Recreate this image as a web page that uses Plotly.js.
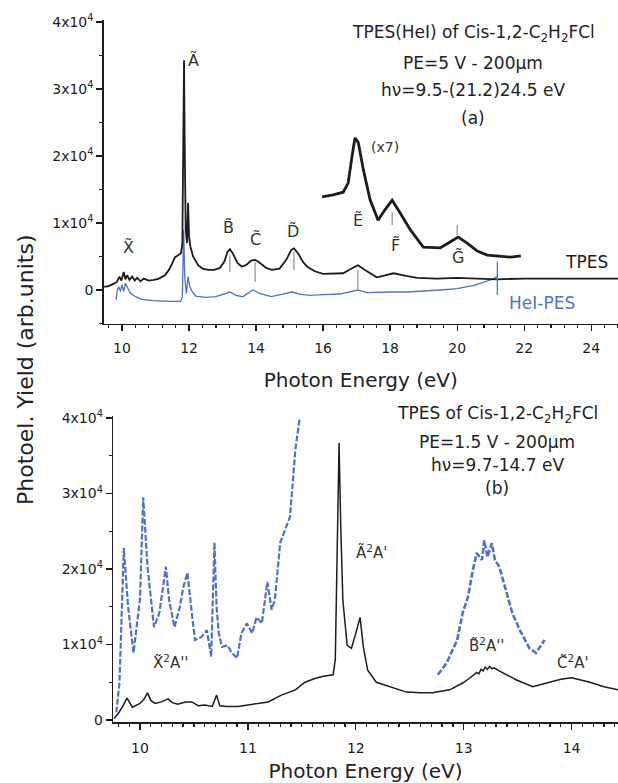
<!DOCTYPE html>
<html>
<head>
<meta charset="utf-8">
<script src="https://cdn.plot.ly/plotly-3.0.1.min.js"></script>
<style>html,body{margin:0;padding:0;background:#fff;}#chart{width:618px;height:783px;}</style>
</head>
<body>
<div id="chart"></div>
<script>
// ---------- Panel (a): TPES (HeI) ----------
const tpesA_E = [9.45, 9.55, 9.7, 9.85, 9.92, 9.98, 10.05, 10.1, 10.15, 10.22, 10.3, 10.38, 10.45, 10.55, 10.65, 10.8, 10.95, 11.1, 11.28, 11.4, 11.5, 11.58, 11.68, 11.76, 11.8, 11.83, 11.85, 11.87, 11.9, 11.94, 11.97, 12.0, 12.04, 12.12, 12.27, 12.4, 12.57, 12.75, 12.92, 13.05, 13.15, 13.22, 13.3, 13.45, 13.57, 13.7, 13.85, 13.97, 14.1, 14.3, 14.47, 14.7, 14.9, 15.05, 15.13, 15.25, 15.4, 15.52, 15.75, 16.0, 16.3, 16.6, 16.85, 17.04, 17.25, 17.6, 17.85, 18.1, 18.4, 18.8, 19.4, 20.0, 20.6, 21.2, 22, 23, 24, 24.8];
const tpesA_Y = [500, 500, 800, 1200, 2000, 1400, 2700, 1600, 2200, 1500, 2000, 1400, 1800, 1300, 1700, 1400, 1500, 1700, 2200, 3000, 4000, 4900, 5200, 5500, 7000, 20000, 34300, 22000, 9000, 7000, 13000, 8000, 6500, 5000, 3700, 3200, 3000, 3000, 3300, 4200, 5700, 6100, 5500, 4000, 3500, 3700, 4400, 4500, 4100, 3300, 3000, 3200, 4500, 6000, 6200, 5500, 4200, 3500, 2800, 2400, 2400, 2500, 3200, 3700, 3000, 1900, 2200, 2500, 2200, 1800, 1700, 1800, 1700, 1600, 1700, 1700, 1700, 1700];

const tpesX7_E = [15.97, 16.3, 16.6, 16.75, 16.85, 16.95, 17.05, 17.2, 17.4, 17.64, 17.85, 18.06, 18.3, 18.6, 18.99, 19.5, 19.8, 20.03, 20.3, 20.6, 20.9, 21.3, 21.6, 21.9];
const tpesX7_Y = [13900, 14200, 14600, 16000, 19500, 22700, 22000, 18000, 13500, 10400, 12000, 13400, 11500, 9000, 6400, 6300, 7200, 7900, 7000, 5800, 5200, 5000, 4900, 5100];

const hePES_E = [9.82, 9.86, 9.9, 9.95, 10.0, 10.05, 10.1, 10.15, 10.25, 10.4, 10.6, 10.9, 11.2, 11.5, 11.75, 11.8, 11.84, 11.87, 11.92, 11.97, 12.02, 12.1, 12.2, 12.5, 12.8, 13.0, 13.22, 13.4, 13.6, 13.75, 13.9, 14.1, 14.45, 14.8, 15.07, 15.3, 15.6, 16.0, 16.5, 17.04, 17.3, 18.0, 18.5, 19.5, 20.0, 20.5, 21.0, 21.2];
const hePES_Y = [-1500, 0, 500, -200, 800, -200, 1000, 500, -500, -1000, -1400, -1600, -1700, -1700, -1700, -1000, 9000, 2000, -500, 2000, 500, -300, -900, -1100, -1000, -700, -300, -800, -1000, -500, 0, -500, -1000, -600, -300, -600, -800, -700, -600, 0, -400, -300, -300, 0, 200, 700, 1500, 2000];

const panelA_ticks = [10, 12, 14, 16, 18, 20, 22, 24];
const yTickVals = [0, 10000, 20000, 30000, 40000];
const yTickText = ['0', '1x10<sup>4</sup>', '2x10<sup>4</sup>', '3x10<sup>4</sup>', '4x10<sup>4</sup>'];

// state labels of panel (a): [text, E, value]
const labelsA = [['X\u0303', 10.18, 6300], ['A\u0303', 12.12, 34300], ['B\u0303', 13.19, 9300], ['C\u0303', 13.97, 7500], ['D\u0303', 15.1, 8700], ['E\u0303', 17.04, 10400], ['F\u0303', 18.15, 6700], ['G\u0303', 20.03, 4800]];
// band markers of panel (a): [E, from, to]
const markersA = [[13.22, 2700, 5200], [13.97, 1200, 4200], [15.13, 3000, 5700], [17.04, 0, 3000], [18.06, 9700, 11600], [20.0, 8200, 9700]];

// ---------- Panel (b): TPES, PE=1.5 V ----------
const tpesB_E = [9.76, 9.80, 9.84, 9.88, 9.93, 10.0, 10.04, 10.07, 10.1, 10.14, 10.2, 10.26, 10.3, 10.35, 10.42, 10.48, 10.54, 10.6, 10.67, 10.71, 10.74, 10.8, 10.91, 11.0, 11.06, 11.19, 11.31, 11.44, 11.53, 11.62, 11.7, 11.79, 11.81, 11.83, 11.845, 11.86, 11.88, 11.92, 11.96, 12.0, 12.04, 12.07, 12.11, 12.19, 12.31, 12.47, 12.6, 12.71, 12.87, 12.99, 13.06, 13.12, 13.14, 13.16, 13.18, 13.2, 13.22, 13.24, 13.26, 13.28, 13.33, 13.41, 13.49, 13.64, 13.77, 13.9, 14.0, 14.17, 14.3, 14.43];
const tpesB_Y = [200, 900, 1800, 2900, 1700, 2200, 2800, 3600, 2600, 2200, 2400, 2800, 2300, 2100, 2400, 2400, 1900, 2000, 1800, 3300, 1900, 1800, 1800, 2000, 2100, 2400, 3300, 4000, 5000, 5500, 5800, 6000, 8000, 22000, 36700, 26000, 15900, 9900, 9500, 11500, 13600, 9700, 6600, 5000, 4400, 3700, 3600, 3600, 4000, 4900, 5600, 6300, 6100, 6700, 6500, 7000, 6700, 7100, 6800, 6900, 6500, 5900, 5300, 4400, 4900, 5400, 5600, 5000, 4400, 4000];

const heB1_E = [9.78, 9.81, 9.85, 9.89, 9.94, 9.98, 10.0, 10.03, 10.07, 10.13, 10.18, 10.24, 10.27, 10.32, 10.37, 10.4, 10.44, 10.48, 10.51, 10.57, 10.62, 10.66, 10.69, 10.71, 10.73, 10.76, 10.81, 10.85, 10.9, 10.94, 10.99, 11.04, 11.08, 11.13, 11.18, 11.22, 11.25, 11.3, 11.34, 11.39, 11.44, 11.48];
const heB1_Y = [1000, 4900, 22800, 15000, 8900, 14200, 16000, 29500, 20300, 12300, 14200, 20300, 15900, 12300, 15000, 17500, 19500, 14200, 10600, 11000, 11900, 8400, 23500, 15000, 11500, 9700, 9900, 8900, 8200, 11500, 12800, 11500, 13600, 12800, 18300, 14600, 15900, 23500, 24900, 26900, 35800, 40000];
const heB2_E = [12.76, 12.84, 12.94, 12.99, 13.04, 13.08, 13.12, 13.17, 13.19, 13.22, 13.26, 13.29, 13.33, 13.4, 13.45, 13.52, 13.61, 13.67, 13.75];
const heB2_Y = [6000, 7500, 10600, 14200, 16300, 19500, 22100, 21200, 23800, 21600, 23400, 21200, 20300, 16800, 14200, 11900, 9500, 8900, 10600];

const panelB_ticks = [10, 11, 12, 13, 14];
const labelsB = [['X\u0303<sup>2</sup>A\'\'', 10.28, 7700], ['A\u0303<sup>2</sup>A\'', 12.15, 22300], ['B\u0303<sup>2</sup>A\'\'', 13.22, 9900], ['C\u0303<sup>2</sup>A\'', 14.01, 7700]];

const titleA = ['TPES(HeI) of Cis-1,2-C<sub>2</sub>H<sub>2</sub>FCl', 'PE=5 V - 200µm', 'hν=9.5-(21.2)24.5 eV', '(a)'];
const titleB = ['TPES of Cis-1,2-C<sub>2</sub>H<sub>2</sub>FCl', 'PE=1.5 V - 200µm', 'hν=9.7-14.7 eV', '(b)'];

const BLACK = '#1c1c1c', BLUE = '#4f73c4', GRAY = '#777777';
const FONT = 'DejaVu Sans, Arial, sans-serif';

const traces = [
  {x: hePES_E, y: hePES_Y, xaxis: 'x', yaxis: 'y', mode: 'lines', line: {color: BLUE, width: 1.3}},
  {x: tpesA_E, y: tpesA_Y, xaxis: 'x', yaxis: 'y', mode: 'lines', line: {color: BLACK, width: 1.8}},
  {x: tpesX7_E, y: tpesX7_Y, xaxis: 'x', yaxis: 'y', mode: 'lines', line: {color: BLACK, width: 2.8}},
  {x: heB1_E, y: heB1_Y, xaxis: 'x2', yaxis: 'y2', mode: 'lines', line: {color: BLUE, width: 2.2, dash: '6px,2px'}},
  {x: heB2_E, y: heB2_Y, xaxis: 'x2', yaxis: 'y2', mode: 'lines', line: {color: BLUE, width: 2.6, dash: '6px,2px'}},
  {x: tpesB_E, y: tpesB_Y, xaxis: 'x2', yaxis: 'y2', mode: 'lines', line: {color: BLACK, width: 1.5}}
];

const axisBase = {
  showline: true, linecolor: BLACK, linewidth: 1.3, showgrid: false, zeroline: false,
  ticks: 'outside', ticklen: 6, tickwidth: 1.3, tickcolor: BLACK,
  tickfont: {family: FONT, size: 14, color: BLACK}
};

const annotations = [];
labelsA.forEach(l => annotations.push({text: l[0], x: l[1], y: l[2], xref: 'x', yref: 'y', xanchor: 'center', yanchor: 'middle', showarrow: false, font: {family: FONT, size: 16, color: '#333'}}));
labelsB.forEach(l => annotations.push({text: l[0], x: l[1], y: l[2], xref: 'x2', yref: 'y2', xanchor: 'center', yanchor: 'middle', showarrow: false, font: {family: FONT, size: 15, color: '#333'}}));
annotations.push({text: '(x7)', x: 17.85, y: 21300, xref: 'x', yref: 'y', xanchor: 'center', showarrow: false, font: {family: FONT, size: 14, color: '#333'}});
annotations.push({text: 'TPES', x: 24.55, y: 4200, xref: 'x', yref: 'y', xanchor: 'right', showarrow: false, font: {family: FONT, size: 17, color: BLACK}});
annotations.push({text: 'HeI-PES', x: 21.5, y: -1900, xref: 'x', yref: 'y', xanchor: 'left', showarrow: false, font: {family: FONT, size: 17, color: BLUE}});
const tyA = [33, 63, 90, 118], tyB = [415, 442, 465, 488];
titleA.forEach((t, i) => annotations.push({text: t, x: 473 / 618, y: 1 - tyA[i] / 783, xref: 'paper', yref: 'paper', xanchor: 'center', yanchor: 'middle', showarrow: false, font: {family: FONT, size: 17, color: '#222'}}));
titleB.forEach((t, i) => annotations.push({text: t, x: 497 / 618, y: 1 - tyB[i] / 783, xref: 'paper', yref: 'paper', xanchor: 'center', yanchor: 'middle', showarrow: false, font: {family: FONT, size: 17, color: '#222'}}));
annotations.push({text: 'Photoel. Yield (arb.units)', x: 25 / 618, y: 1 - 370 / 783, xref: 'paper', yref: 'paper', xanchor: 'center', yanchor: 'middle', textangle: -90, showarrow: false, font: {family: FONT, size: 22, color: '#222'}});

const shapes = markersA.map(m => ({type: 'line', xref: 'x', yref: 'y', x0: m[0], x1: m[0], y0: m[1], y1: m[2], line: {color: GRAY, width: 1}}));
shapes.push({type: 'line', xref: 'x', yref: 'y', x0: 21.2, x1: 21.2, y0: -700, y1: 4200, line: {color: BLUE, width: 1.3}});

const layout = {
  width: 618, height: 783,
  margin: {l: 0, r: 0, t: 0, b: 0},
  paper_bgcolor: '#ffffff', plot_bgcolor: 'rgba(0,0,0,0)',
  showlegend: false,
  font: {family: FONT, color: BLACK},
  xaxis: Object.assign({}, axisBase, {
    domain: [103.6 / 618, 1], range: [9.45, 24.8], anchor: 'y',
    tickvals: panelA_ticks, ticklabelstandoff: 5,
    minor: {dtick: 0.4, tick0: 10, ticks: 'outside', ticklen: 3, tickcolor: BLACK},
    title: {text: 'Photon Energy (eV)', font: {family: FONT, size: 20, color: '#222'}, standoff: 18}
  }),
  yaxis: Object.assign({}, axisBase, {
    domain: [1 - 323.5 / 783, 1 - 20 / 783], range: [-5000, 40300], anchor: 'x',
    tickvals: yTickVals, ticktext: yTickText,
    minor: {dtick: 5000, tick0: 0, ticks: 'outside', ticklen: 3, tickcolor: BLACK}
  }),
  xaxis2: Object.assign({}, axisBase, {
    domain: [113 / 618, 1], range: [9.75, 14.43], anchor: 'y2',
    tickvals: panelB_ticks, ticklabelstandoff: 7,
    minor: {dtick: 0.1, tick0: 10, ticks: 'outside', ticklen: 3, tickcolor: BLACK},
    title: {text: 'Photon Energy (eV)', font: {family: FONT, size: 20, color: '#222'}, standoff: 9}
  }),
  yaxis2: Object.assign({}, axisBase, {
    domain: [1 - 722.3 / 783, 1 - 415.7 / 783], range: [-300, 40300], anchor: 'x2',
    tickvals: yTickVals, ticktext: yTickText,
    minor: {dtick: 5000, tick0: 0, ticks: 'outside', ticklen: 3, tickcolor: BLACK}
  }),
  annotations: annotations,
  shapes: shapes
};

Plotly.newPlot('chart', traces, layout, {staticPlot: true, displayModeBar: false});
</script>
</body>
</html>
